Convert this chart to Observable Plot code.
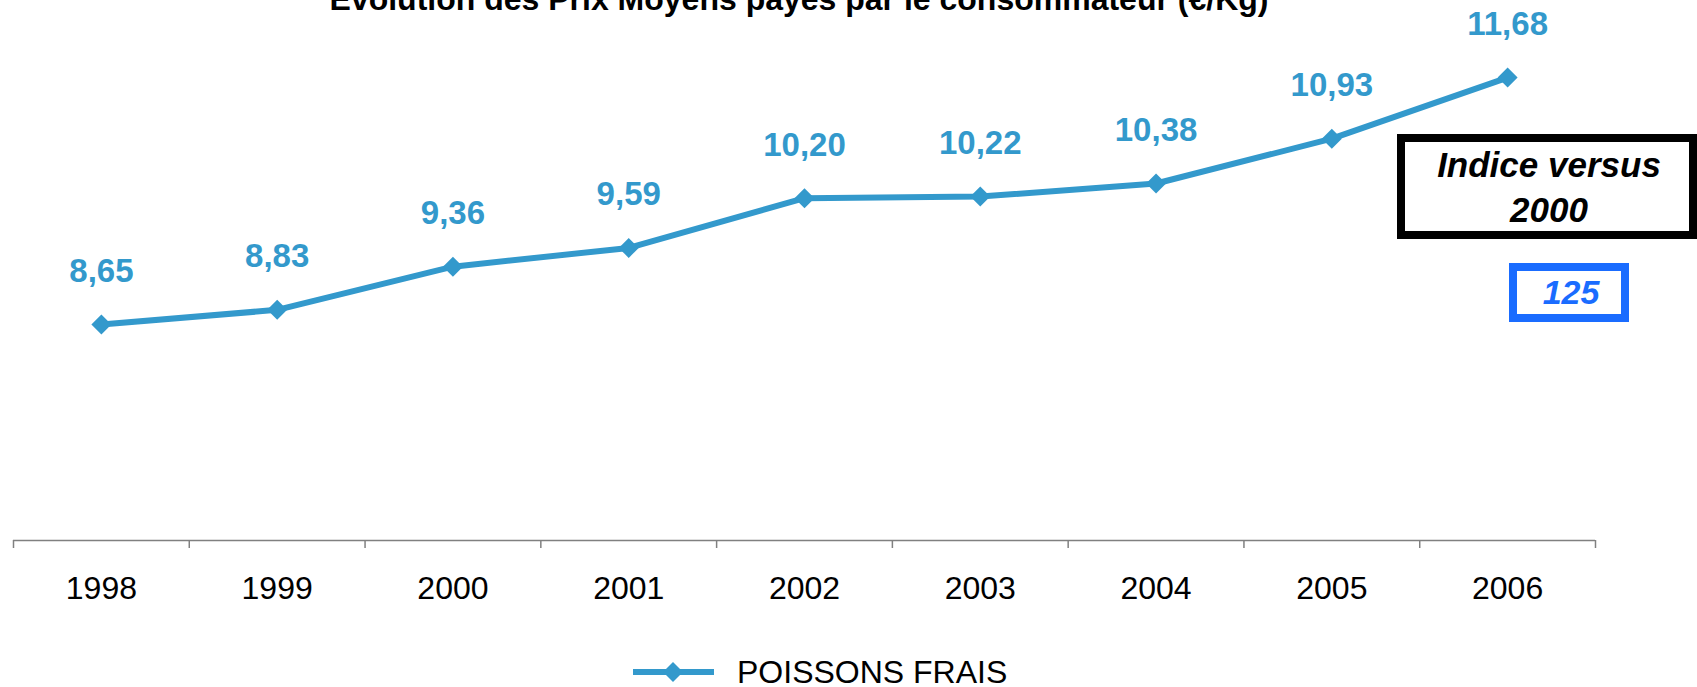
<!DOCTYPE html>
<html>
<head>
<meta charset="utf-8">
<script src="https://cdn.jsdelivr.net/npm/d3@7"></script>
<script src="https://cdn.jsdelivr.net/npm/@observablehq/plot@0.6"></script>
<style>
  html, body { margin: 0; padding: 0; background: #fff; overflow: hidden; }
  body { font-family: "Liberation Sans", Arial, sans-serif; }
  #wrap { position: relative; width: 1697px; height: 687px; overflow: hidden; }
  #title { position: absolute; left: 0; width: 1598px; top: -16px; text-align: center;
    font-size: 32px; line-height: 30px; font-weight: bold; color: #000; white-space: nowrap; }
  #chart { position: absolute; left: 0; top: 0; }
  .box1 { position: absolute; left: 1397px; top: 134px; width: 300px; height: 105px; box-sizing: border-box;
    border: 8px solid #000; text-align: center; font-size: 35px; line-height: 45px; font-weight: bold;
    font-style: italic; color: #000; padding-left: 4px; }
  .box2 { position: absolute; left: 1509px; top: 263px; width: 120px; height: 59px; box-sizing: border-box;
    border: 8px solid #1a6cff; text-align: center; font-size: 34px; line-height: 43px; font-weight: bold;
    font-style: italic; color: #1a6cff; padding-left: 4px; }
  #legend { position: absolute; left: 633px; top: 657px; height: 30px; display: flex; align-items: center; }
  #legend svg { display: block; }
  #legend span { font-size: 32px; line-height: 28px; color: #000; margin-left: 22px; }
</style>
</head>
<body>
<div id="wrap">
  <div id="chart"></div>
  <div id="title">Evolution des Prix Moyens payés par le consommateur (€/Kg)</div>
  <div class="box1">Indice versus<br>2000</div>
  <div class="box2">125</div>
  <div id="legend"></div>
</div>
<script>
const years = [1998, 1999, 2000, 2001, 2002, 2003, 2004, 2005, 2006];
const prices = [8.65, 8.83, 9.36, 9.59, 10.20, 10.22, 10.38, 10.93, 11.68];
const priceLabels = ["8,65", "8,83", "9,36", "9,59", "10,20", "10,22", "10,38", "10,93", "11,68"];
const seriesName = "POISSONS FRAIS";
const color = "#3399cc";

const data = years.map((y, i) => ({year: y, price: prices[i], label: priceLabels[i]}));
const edges = years.map(y => y - 0.5).concat([years[years.length - 1] + 0.5]);

const chart = Plot.plot({
  width: 1697,
  height: 625,
  marginLeft: 13,
  marginRight: 102,
  marginTop: 51,
  marginBottom: 85,
  style: {fontFamily: "'Liberation Sans', Arial, sans-serif", background: "transparent", overflow: "visible"},
  x: {domain: [edges[0], edges[edges.length - 1]], axis: null},
  y: {domain: [6, 12], axis: null},
  marks: [
    Plot.ruleY([6], {stroke: "#808080", strokeWidth: 1.5}),
    Plot.axisX({ticks: edges, tickFormat: () => "", tickSize: 8, stroke: "#808080", strokeWidth: 1.5, label: null}),
    Plot.axisX({ticks: years, tickFormat: d => String(d), tickSize: 0, tickPadding: 36, fontSize: 32, fill: "#000", label: null}),
    Plot.line(data, {x: "year", y: "price", stroke: color, strokeWidth: 6}),
    Plot.dot(data, {x: "year", y: "price", symbol: "diamond2", r: 9, fill: color, stroke: "none"}),
    Plot.text(data, {x: "year", y: "price", text: "label", dy: -53, fill: color, fontSize: 33, fontWeight: "bold"})
  ]
});
document.getElementById("chart").appendChild(chart);

// legend
const leg = d3.create("svg").attr("width", 82).attr("height", 30);
leg.append("line").attr("x1", 0).attr("x2", 81).attr("y1", 15).attr("y2", 15).attr("stroke", color).attr("stroke-width", 6);
leg.append("path").attr("d", d3.symbol(d3.symbolDiamond2, 255)()).attr("transform", "translate(40,15)").attr("fill", color);
const legEl = document.getElementById("legend");
legEl.appendChild(leg.node());
const s = document.createElement("span");
s.textContent = seriesName;
legEl.appendChild(s);
</script>
</body>
</html>
